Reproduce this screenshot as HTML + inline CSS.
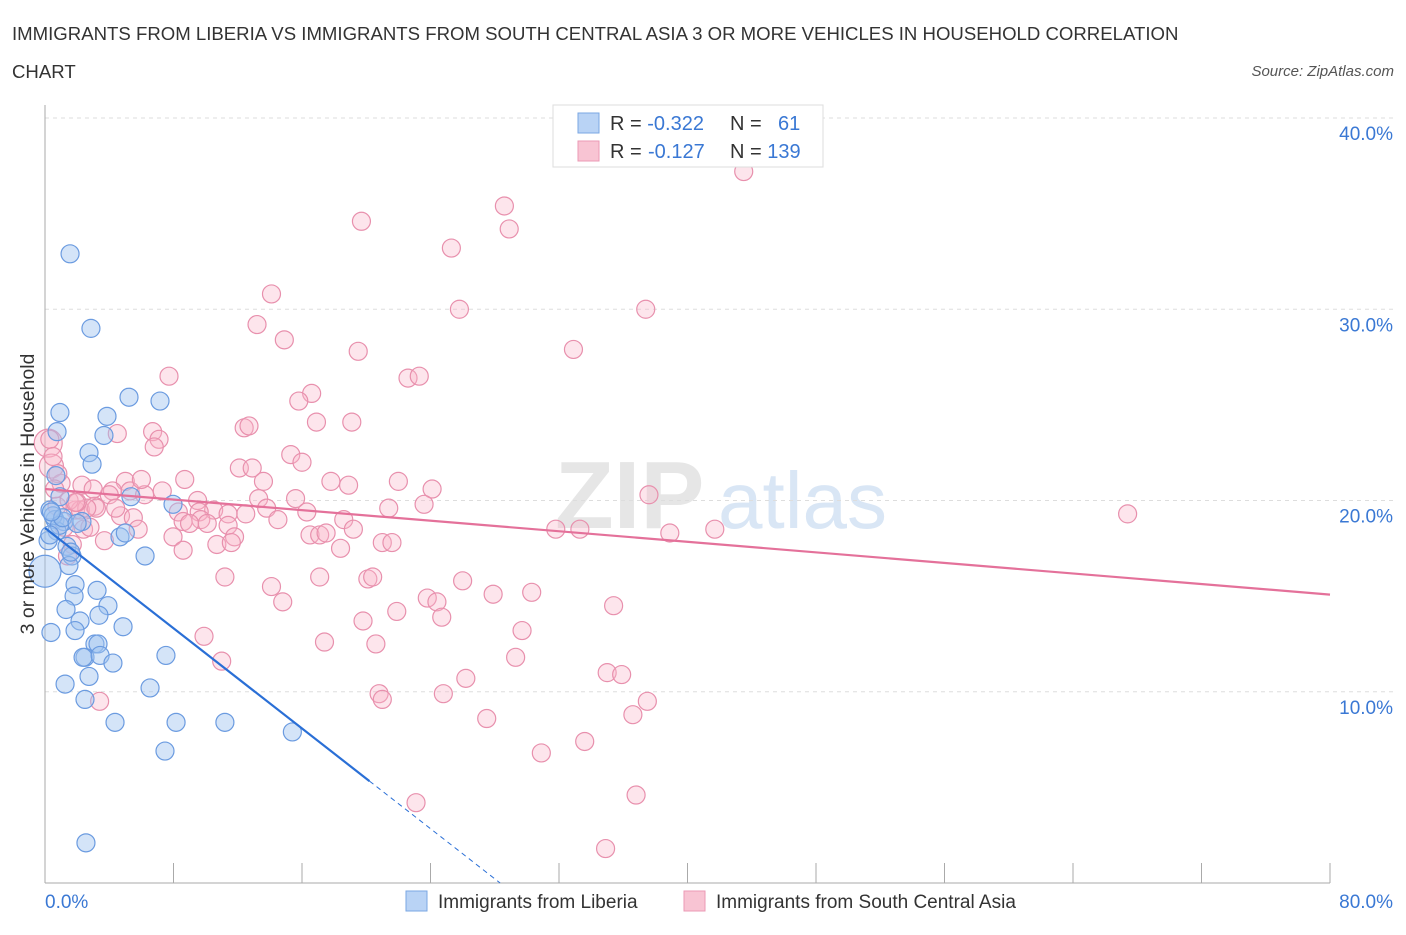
<!DOCTYPE html>
<html><head><meta charset="utf-8"><style>
body{margin:0;background:#fff;font-family:"Liberation Sans",sans-serif;}
svg text{font-family:"Liberation Sans",sans-serif;}
</style></head><body>
<svg id="chart" width="1406" height="930" xmlns="http://www.w3.org/2000/svg">
<text x="12" y="40" font-size="18.6" fill="#333">IMMIGRANTS FROM LIBERIA VS IMMIGRANTS FROM SOUTH CENTRAL ASIA 3 OR MORE VEHICLES IN HOUSEHOLD CORRELATION</text>
<text x="12" y="78" font-size="18.6" fill="#333">CHART</text>
<text x="1394" y="76" font-size="15" fill="#555" font-style="italic" text-anchor="end">Source: ZipAtlas.com</text>
<g>
<text x="555" y="528" font-size="96" fill="#e6e6e6" font-family="Liberation Serif" font-weight="bold">ZIP</text>
<text x="718" y="528" font-size="80" fill="#d9e6f5">atlas</text>
</g>
<g id="grid"></g>
<g id="axes"></g>
<g id="marks"></g>
<g id="trends"></g>
<g>
<rect x="553" y="105" width="270" height="62" fill="#fff" stroke="#ddd"/>
<rect x="578" y="113" width="21" height="20" fill="#b9d3f5" stroke="#7aa7e3"/>
<rect x="578" y="141" width="21" height="20" fill="#f8c4d3" stroke="#eb9ab5"/>
<text x="610" y="130" font-size="20" fill="#333">R = <tspan fill="#3a78d4">-0.322</tspan></text>
<text x="730" y="130" font-size="20" fill="#333">N = <tspan fill="#3a78d4" x="778">61</tspan></text>
<text x="610" y="158" font-size="20" fill="#333">R = <tspan fill="#3a78d4" x="648">-0.127</tspan></text>
<text x="730" y="158" font-size="20" fill="#333">N = <tspan fill="#3a78d4">139</tspan></text>
</g>
<g>
<rect x="406" y="891" width="21" height="20" fill="#b9d3f5" stroke="#7aa7e3"/>
<text x="438" y="908" font-size="19" fill="#333">Immigrants from Liberia</text>
<rect x="684" y="891" width="21" height="20" fill="#f8c4d3" stroke="#eb9ab5"/>
<text x="716" y="908" font-size="19" fill="#333">Immigrants from South Central Asia</text>
</g>
<text transform="translate(34,494) rotate(-90)" font-size="19.5" fill="#333" text-anchor="middle">3 or more Vehicles in Household</text>
</svg>
<script>
const blueX=[1.56,2.86,0.93,3.86,5.23,7.16,0.75,2.74,3.67,2.93,0.68,5.35,0.93,7.97,0.31,0.62,1.18,2.3,0.75,0.19,4.67,5.0,1.37,1.68,1.49,6.23,1.87,1.81,3.24,3.92,1.31,3.36,2.18,4.86,1.87,0.37,3.11,3.3,2.49,2.37,3.43,4.23,7.53,2.74,1.25,6.54,2.49,4.36,8.16,11.2,15.4,7.47,2.55,0.5,0.9,1.1,0.3,1.6,2.0,0.4];
const blueY=[32.9,29.0,24.6,24.4,25.4,25.2,23.6,22.5,23.4,21.9,21.3,20.2,20.2,19.8,19.5,19.0,18.9,18.9,18.4,17.9,18.1,18.3,17.6,17.1,16.6,17.1,15.6,15.0,15.3,14.5,14.3,14.0,13.7,13.4,13.2,13.1,12.5,12.5,11.8,11.8,11.9,11.5,11.9,10.8,10.4,10.2,9.6,8.4,8.4,8.4,7.9,6.9,2.1,19.2,18.7,19.1,18.2,17.3,18.8,19.4];
const blueR=[9,9,9,9,9,9,9,9,9,9,9,9,9,9,9,9,9,9,9,9,9,9,9,9,9,9,9,9,9,9,9,9,9,9,9,9,9,9,9,9,9,9,9,9,9,9,9,9,9,9,9,9,9,9,9,9,9,9,9,9];
const bigBlue=[[0,16.3,16]];
const pinkX=[43.5,28.6,28.9,19.7,25.3,67.4,25.8,37.4,14.1,13.2,14.9,19.5,32.9,7.72,22.6,23.3,16.6,15.8,16.9,19.1,12.4,12.7,4.5,6.7,7.1,6.8,0.3,15.3,16.0,12.1,12.9,8.7,13.6,17.8,18.9,22.0,24.1,2.3,5.0,4.2,4.0,5.3,6.2,7.3,9.5,13.3,15.6,10.5,12.5,13.8,16.3,21.4,23.6,37.6,0.75,3.1,1.9,2.2,3.2,4.7,5.5,8.3,8.6,9.6,9.7,11.4,9.0,10.1,14.5,18.6,11.4,2.4,5.8,16.5,17.1,17.5,19.2,31.8,33.3,38.9,41.7,3.7,7.97,11.8,10.7,11.6,18.4,21.0,21.6,8.6,1.4,11.2,17.1,20.1,20.4,26.0,14.1,14.8,30.3,27.9,23.8,24.4,35.4,21.9,19.8,24.7,29.7,17.4,20.6,9.9,29.3,11.0,35.0,35.9,26.2,20.8,21.0,24.8,37.5,36.6,3.4,27.5,33.6,30.9,36.8,23.1,34.9,1.0,0.8,1.5,2.6,2.0,0.6,3.0,1.2,4.4,6.0,2.8,1.7,0.5,1.9];
const pinkY=[37.2,35.4,34.2,34.6,33.2,19.3,30.0,30.0,30.8,29.2,28.4,27.8,27.9,26.5,26.4,26.5,25.6,25.2,24.1,24.1,23.8,23.9,23.5,23.6,23.2,22.8,23.2,22.4,22.0,21.7,21.7,21.1,21.0,21.0,20.8,21.0,20.6,20.8,21.0,20.5,20.3,20.5,20.3,20.5,20.0,20.1,20.1,19.5,19.3,19.6,19.4,19.6,19.8,20.3,19.7,19.7,19.5,19.5,19.6,19.2,19.1,19.4,18.9,19.4,19.0,19.3,18.8,18.8,19.0,19.0,18.7,18.5,18.5,18.2,18.2,18.3,18.5,18.5,18.5,18.3,18.5,17.9,18.1,18.1,17.7,17.8,17.5,17.8,17.8,17.4,17.1,16.0,16.0,15.9,16.0,15.8,15.5,14.7,15.2,15.1,14.9,14.7,14.5,14.2,13.7,13.9,13.2,12.6,12.5,12.9,11.8,11.6,11.0,10.9,10.7,9.9,9.6,9.9,9.5,8.8,9.5,8.6,7.4,6.8,4.6,4.2,1.8,20.9,21.4,20.0,19.6,19.9,20.6,20.6,18.6,19.6,21.1,18.6,17.7,22.3,19.9];
const bigPink=[[0.2,23.0,14],[0.4,21.8,12]];
const trendBlue=[18.56,-0.655];
const trendPink=[20.6,-0.069];
const xTicks=[0,8,16,24,32,40,48,56,64,72,80];
const yTicks=[10,20,30,40];
const yTickLabels=["10.0%","20.0%","30.0%","40.0%"];
const xTickLabels=["0.0%","80.0%"];

const NS="http://www.w3.org/2000/svg";
const X0=45,X1=1330,Y0=883,YTOP=118;
const sx=v=>X0+(v/80)*(X1-X0);
const sy=v=>Y0-(v/40)*(Y0-YTOP);
function mk(tag,attrs,parent){const e=document.createElementNS(NS,tag);for(const k in attrs)e.setAttribute(k,attrs[k]);parent.appendChild(e);return e;}
const grid=document.getElementById('grid'),axes=document.getElementById('axes'),marks=document.getElementById('marks'),trends=document.getElementById('trends');
yTicks.forEach((t,i)=>{
  const l=mk('line',{x1:X0,x2:1395,y1:sy(t),y2:sy(t),stroke:'#ddd','stroke-dasharray':'4,4'},grid);
  
  
  const tx=mk('text',{x:1393,y:sy(t)+22,'font-size':19,fill:'#3a78d4','text-anchor':'end'},axes);
  tx.textContent=yTickLabels[i];
  
  
});
const ax=mk('line',{x1:X0,x2:X0,y1:105,y2:Y0,stroke:'#aaa'},axes);


const bx=mk('line',{x1:X0,x2:X1,y1:Y0,y2:Y0,stroke:'#aaa'},axes);


xTicks.forEach(t=>{
  const l=mk('line',{x1:sx(t),x2:sx(t),y1:Y0-20,y2:Y0,stroke:'#aaa'},axes);
  
  
});
const xl0=mk('text',{x:45,y:908,'font-size':19,fill:'#3a78d4'},axes);xl0.textContent=xTickLabels[0];


const xl1=mk('text',{x:1393,y:908,'font-size':19,fill:'#3a78d4','text-anchor':'end'},axes);xl1.textContent=xTickLabels[1];



function pt(x,y,r,cls){
  const blue=cls==='b';
  const c=mk('circle',{cx:sx(x),cy:sy(y),r:r,fill:blue?'rgba(160,196,240,0.45)':'rgba(248,180,200,0.35)',stroke:blue?'#6b9be0':'#e890ad','stroke-width':1.2},marks);
  
  
}
bigPink.forEach(p=>pt(p[0],p[1],p[2],'p'));
pinkX.forEach((x,i)=>pt(x,pinkY[i],9,'p'));
bigBlue.forEach(p=>pt(p[0],p[1],p[2],'b'));
blueX.forEach((x,i)=>pt(x,blueY[i],blueR[i],'b'));

const bEnd=20.2, bZero=-trendBlue[0]/trendBlue[1];
const tb=mk('line',{x1:sx(0),y1:sy(trendBlue[0]),x2:sx(bEnd),y2:sy(trendBlue[0]+trendBlue[1]*bEnd),stroke:'#2a6fd6','stroke-width':2.2},trends);


const td=mk('line',{x1:sx(bEnd),y1:sy(trendBlue[0]+trendBlue[1]*bEnd),x2:sx(bZero),y2:sy(0),stroke:'#2a6fd6','stroke-width':1,'stroke-dasharray':'5,4'},trends);


const tp=mk('line',{x1:sx(0),y1:sy(trendPink[0]),x2:sx(80),y2:sy(trendPink[0]+trendPink[1]*80),stroke:'#e4719a','stroke-width':2.2},trends);


</script>
</body></html>
